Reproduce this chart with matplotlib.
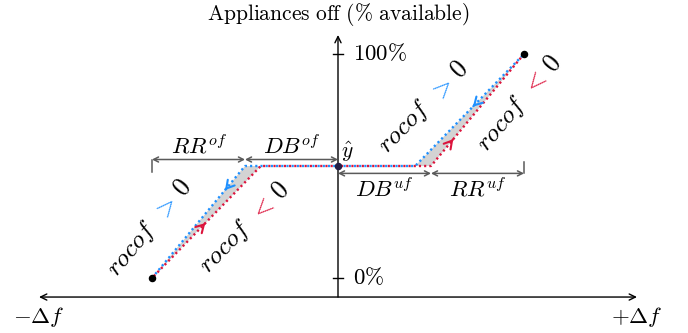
import numpy as np
import matplotlib
matplotlib.use("Agg")
import matplotlib.pyplot as plt

plt.rcParams['mathtext.fontset'] = 'cm'

# ---------------- data ----------------
# hysteresis paths (x in units of deadband width, y in % available)
blue_x = [-2.0, -1.0, 0.83, 2.0]     # rocof > 0 path
blue_y = [0.0, 50.0, 50.0, 100.0]
red_x = [-2.0, -0.83, 1.0, 2.0]      # rocof < 0 path
red_y = [0.0, 50.0, 50.0, 100.0]
y_hat = 50.0
db_of, rr_of = 1.0, 1.0
db_uf, rr_uf = 1.0, 1.0
y_ticks = [0, 100]
y_tick_labels = [r'$0\%$', r'$100\%$']
x_end_labels = [r'$-\Delta f$', r'$+\Delta f$']
title = r'$\mathrm{Appliances\ off\ (\%\ available)}$'

BLUE = '#1E90FF'
RED = '#DC143C'
GRAY = '#5a5a5a'
FS = 16.5
FS_ROCOF = 18.5

fig = plt.figure(figsize=(6.88, 3.33), dpi=100)
ax = fig.add_axes([0, 0, 1, 1])
ax.set_xlim(-338 / 93, 350 / 93)
ax.set_ylim(-55 / 2.24, 278 / 2.24)
ax.axis('off')

x_axis_y = -8.5
x_axis_ends = (-3.215, 3.215)
y_axis_top = 108.5

# axes
ax.annotate('', xy=(x_axis_ends[1], x_axis_y), xytext=(x_axis_ends[0], x_axis_y),
            arrowprops=dict(arrowstyle='<->,head_length=0.45,head_width=0.22',
                            lw=1.0, color='black', shrinkA=0, shrinkB=0))
ax.annotate('', xy=(0, y_axis_top), xytext=(0, x_axis_y),
            arrowprops=dict(arrowstyle='->,head_length=0.45,head_width=0.22',
                            lw=1.0, color='black', shrinkA=0, shrinkB=0))
for yt, lab in zip(y_ticks, y_tick_labels):
    ax.plot([-0.055, 0.055], [yt, yt], color='black', lw=1.0)
    ax.text(0.16, yt, lab, fontsize=FS, ha='left', va='center')
ax.text(x_axis_ends[0], -17.5, x_end_labels[0], fontsize=FS, ha='center', va='center')
ax.text(x_axis_ends[1], -17.5, x_end_labels[1], fontsize=FS, ha='center', va='center')
ax.text(0.0, 117.8, title, fontsize=FS - 1, ha='center', va='center')

# shaded hysteresis areas
ax.fill([blue_x[0], blue_x[1], red_x[1]], [blue_y[0], blue_y[1], red_y[1]],
        color='#d3d3d3', lw=0, zorder=1)
ax.fill([blue_x[2], blue_x[3], red_x[2]], [blue_y[2], blue_y[3], red_y[2]],
        color='#d3d3d3', lw=0, zorder=1)

# dotted paths (alternating dots where they overlap)
ax.plot(blue_x, blue_y, color=BLUE, lw=1.7, ls=(0, (0.9, 1.3)), zorder=3,
        solid_capstyle='butt')
ax.plot(red_x, red_y, color=RED, lw=1.7, ls=(1.1, (0.9, 1.3)), zorder=3,
        solid_capstyle='butt')

# end points
ax.plot([blue_x[0], blue_x[-1]], [blue_y[0], blue_y[-1]], 'o', color='black',
        ms=4.4, zorder=5)
ax.plot([0], [y_hat], 'o', color='#241f45', ms=4.4, zorder=5)


def on_seg(xs, ys, i, t):
    return xs[i] + t * (xs[i + 1] - xs[i]), ys[i] + t * (ys[i + 1] - ys[i])


def add_head(xs, ys, i, t, color, forward):
    x0, y0 = on_seg(xs, ys, i, t)
    dx, dy = xs[i + 1] - xs[i], ys[i + 1] - ys[i]
    s = 0.004 if forward else -0.004
    ax.annotate('', xy=(x0, y0), xytext=(x0 - s * dx, y0 - s * dy),
                arrowprops=dict(arrowstyle='->,head_length=0.55,head_width=0.32',
                                lw=1.5, color=color, shrinkA=0, shrinkB=0),
                zorder=4)


add_head(blue_x, blue_y, 2, 0.53, BLUE, False)
add_head(red_x, red_y, 2, 0.24, RED, True)
add_head(blue_x, blue_y, 0, 0.785, BLUE, False)
add_head(red_x, red_y, 0, 0.49, RED, True)

# dimension lines
dim_of_y = 52.9
dim_uf_y = 46.7
dim_style = dict(arrowstyle='<->,head_length=0.35,head_width=0.18',
                 lw=1.1, color=GRAY, shrinkA=0, shrinkB=0)
ax.annotate('', xy=(-db_of, dim_of_y), xytext=(-(db_of + rr_of), dim_of_y),
            arrowprops=dim_style)
ax.annotate('', xy=(0, dim_of_y), xytext=(-db_of, dim_of_y), arrowprops=dim_style)
ax.annotate('', xy=(0, dim_uf_y), xytext=(db_uf, dim_uf_y), arrowprops=dim_style)
ax.annotate('', xy=(db_uf + rr_uf, dim_uf_y), xytext=(db_uf, dim_uf_y),
            arrowprops=dim_style)
ax.plot([-(db_of + rr_of)] * 2, [47.5, 52.9], color=GRAY, lw=1.1)
ax.plot([db_uf + rr_uf] * 2, [46.7, 52.0], color=GRAY, lw=1.1)

ax.text(-(db_of + rr_of / 2), 58.5, r'$RR^{of}$', fontsize=FS, ha='center', va='center')
ax.text(-db_of / 2, 58.5, r'$DB^{of}$', fontsize=FS, ha='center', va='center')
ax.text(db_uf / 2, 39.3, r'$DB^{uf}$', fontsize=FS, ha='center', va='center')
ax.text(db_uf + rr_uf / 2, 39.3, r'$RR^{uf}$', fontsize=FS, ha='center', va='center')
ax.text(0.1, 56.5, r'$\hat{y}$', fontsize=FS - 1, ha='center', va='center')

# sloped rocof labels with coloured relation sign
renderer = fig.canvas.get_renderer()


def seg_angle(xs, ys, i):
    p0 = ax.transData.transform((xs[i], ys[i]))
    p1 = ax.transData.transform((xs[i + 1], ys[i + 1]))
    return np.degrees(np.arctan2(p1[1] - p0[1], p1[0] - p0[0]))


def sloped_label(x, y, parts, colors, angle, fs):
    widths = []
    for p in parts:
        t = ax.text(0, 0, p, fontsize=fs)
        widths.append(t.get_window_extent(renderer).width)
        t.remove()
    gap = 0.3 * fs * fig.dpi / 72
    total = sum(widths) + gap * (len(parts) - 1)
    pos = -total / 2
    th = np.radians(angle)
    for p, c, w in zip(parts, colors, widths):
        cen = pos + w / 2
        dx = cen * np.cos(th) * 72 / fig.dpi
        dy = cen * np.sin(th) * 72 / fig.dpi
        ax.annotate(p, xy=(x, y), xytext=(dx, dy), textcoords='offset points',
                    rotation=angle, rotation_mode='anchor', ha='center',
                    va='baseline', color=c, fontsize=fs)
        pos += w + gap


gt = [r'$rocof$', r'$>$', r'$0$']
lt = [r'$rocof$', r'$<$', r'$0$']
sloped_label(-1.978, 20.5, gt, ['black', BLUE, 'black'], seg_angle(blue_x, blue_y, 0), FS_ROCOF)
sloped_label(-0.953, 20.4, lt, ['black', RED, 'black'], seg_angle(red_x, red_y, 0), FS_ROCOF)
sloped_label(0.972, 74.2, gt, ['black', BLUE, 'black'], seg_angle(blue_x, blue_y, 2), FS_ROCOF)
sloped_label(2.0, 76.1, lt, ['black', RED, 'black'], seg_angle(red_x, red_y, 2), FS_ROCOF)

fig.savefig('out.png', dpi=100)
